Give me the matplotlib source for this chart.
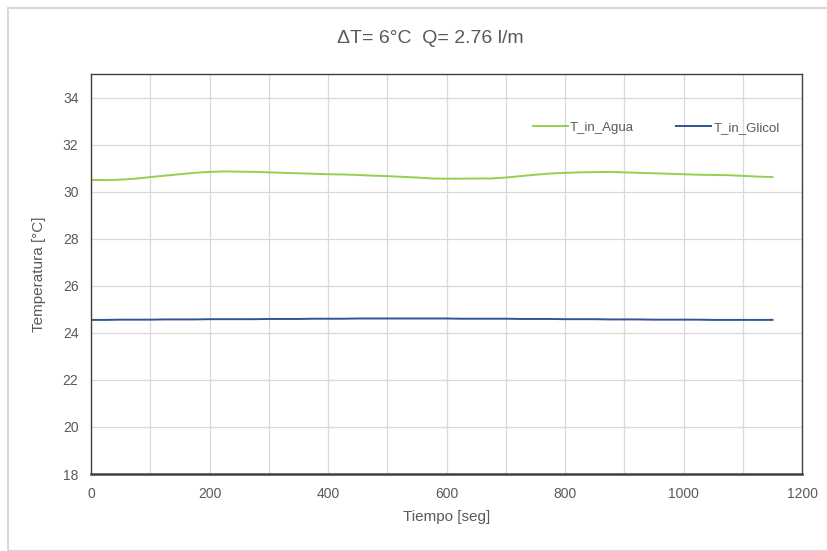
import matplotlib
matplotlib.use('Agg')
from matplotlib import pyplot as plt
from matplotlib.patches import Rectangle

plt.rcParams['font.family'] = ['Liberation Sans', 'DejaVu Sans']

tiempo = [0, 25, 50, 75, 100, 125, 150, 175, 200, 225, 250, 275, 300, 325, 350, 375,
          400, 425, 450, 475, 500, 525, 550, 575, 600, 625, 650, 675, 700, 725, 750, 775,
          800, 825, 850, 875, 900, 925, 950, 975, 1000, 1025, 1050, 1075, 1100, 1125, 1150]
t_in_agua = [30.50, 30.49, 30.51, 30.55, 30.62, 30.68, 30.74, 30.80, 30.84, 30.86, 30.85, 30.84,
             30.82, 30.80, 30.78, 30.76, 30.74, 30.73, 30.71, 30.68, 30.66, 30.63, 30.60, 30.56,
             30.55, 30.55, 30.56, 30.56, 30.60, 30.66, 30.72, 30.77, 30.80, 30.82, 30.83, 30.84,
             30.82, 30.80, 30.78, 30.76, 30.74, 30.72, 30.71, 30.70, 30.67, 30.64, 30.62]
t_in_glicol = [24.55, 24.55, 24.56, 24.56, 24.56, 24.57, 24.57, 24.57, 24.58, 24.58, 24.58, 24.58,
               24.59, 24.59, 24.59, 24.60, 24.60, 24.60, 24.61, 24.61, 24.61, 24.61, 24.61, 24.61,
               24.61, 24.60, 24.60, 24.60, 24.60, 24.59, 24.59, 24.59, 24.58, 24.58, 24.58, 24.57,
               24.57, 24.57, 24.56, 24.56, 24.56, 24.56, 24.55, 24.55, 24.55, 24.55, 24.55]

gray = '#595959'
fig = plt.figure(figsize=(8.27, 5.51), dpi=100)
fig.patches.append(Rectangle((0.010, 0.0), 0.995, 0.985, transform=fig.transFigure,
                             fill=False, edgecolor='#d9d9d9', linewidth=1.5))
ax = fig.add_axes([0.110, 0.1397, 0.860, 0.726])

ax.plot(tiempo, t_in_agua, color='#92D050', linewidth=1.4, label='T_in_Agua')
ax.plot(tiempo, t_in_glicol, color='#2F5597', linewidth=1.4, label='T_in_Glicol')

ax.set_xlim(0, 1200)
ax.set_ylim(18, 35)
ax.set_xticks(range(0, 1201, 200))
ax.set_xticks(range(0, 1201, 100), minor=True)
ax.set_yticks(range(18, 35, 2))
ax.grid(True, which='both', color='#d9d9d9', linewidth=0.9)
ax.set_axisbelow(True)
ax.tick_params(which='both', length=0, colors=gray, labelsize=10, pad=9)
for s in ax.spines.values():
    s.set_color('#404040')
    s.set_linewidth(1.0)
ax.spines['bottom'].set_linewidth(1.8)

ax.set_xlabel('Tiempo [seg]', color=gray, fontsize=11, labelpad=7)
ax.set_ylabel('Temperatura [°C]', color=gray, fontsize=11, labelpad=12)
fig.text(0.52, 0.93, 'ΔT= 6°C  Q= 2.76 l/m', ha='center', va='center', color=gray, fontsize=14)

ax.legend(loc='upper right', bbox_to_anchor=(0.985, 0.91), ncol=2, frameon=False,
          fontsize=9.5, labelcolor=gray, handlelength=2.6, columnspacing=3.2, handletextpad=0.2)

fig.savefig('out.png', dpi=100)
plt.close(fig)
